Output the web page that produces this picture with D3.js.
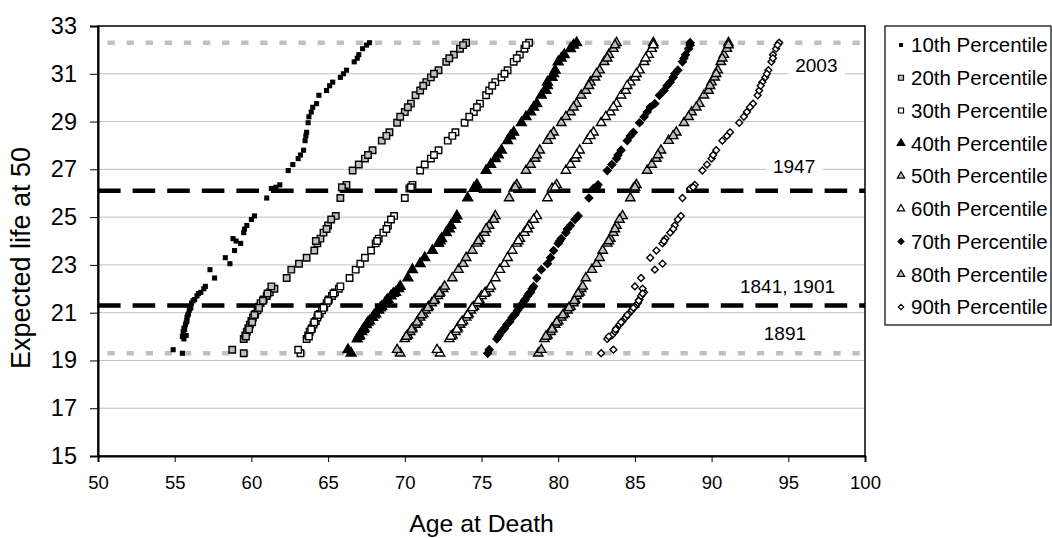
<!DOCTYPE html>
<meta charset="utf-8">
<style>
body { margin: 0; background: #fff; }
svg { display: block; }
text { font-family: "Liberation Sans", Arial, sans-serif; fill: #000; }
.grid line { stroke: #c0c0c0; stroke-width: 1; }
</style>
<svg width="1052" height="538"></svg>
<script src="https://cdn.jsdelivr.net/npm/d3@7"></script>
<script>

// expected life at 50, one value per year (shared by all percentiles)
var lifeAt50 = [19.30, 19.45, 19.90, 20.05, 20.20, 20.35, 20.50, 20.65, 20.80, 20.95,
  21.10, 21.25, 21.40, 21.55, 21.70, 21.85, 22.00, 22.45, 22.80, 23.05,
  23.60, 23.90, 24.10, 24.35, 24.65, 25.05, 25.80, 26.20, 26.35, 26.95,
  27.20, 27.45, 27.80, 28.20, 28.55, 28.95, 29.40, 29.75, 30.10, 30.30,
  30.65, 30.85, 31.15, 31.50, 31.80, 32.05, 32.30,
  20.00, 20.30, 20.60, 20.90, 21.20, 21.50, 21.80, 22.10, 23.30, 24.00,
  24.50, 24.90, 26.25, 27.60, 28.40, 29.20, 29.60, 30.50, 31.00, 31.65, 32.20];

// age at death for each percentile, same order as lifeAt50
var ageP10 = [55.5, 54.9, 55.6, 55.75, 55.55, 55.6, 55.7, 55.8, 55.8, 55.9,
  55.95, 56.0, 56.1, 56.3, 56.45, 56.7, 56.9, 57.6, 57.3, 58.6,
  58.9, 59.3, 58.8, 59.5, 59.7, 60.2, 61.0, 61.3, 61.85, 62.4,
  62.7, 63.05, 63.4, 63.5, 63.6, 63.7, 63.9, 64.25, 64.4, 64.9,
  65.3, 65.8, 66.2, 66.7, 67.0, 67.25, 67.7,
  55.5, 55.65, 55.75, 55.85, 56.05, 56.2, 56.55, 57.0, 58.3, 59.0,
  59.55, 60.0, 61.6, 63.2, 63.55, 63.75, 64.0, 65.1, 66.0, 66.9, 67.5];
var ageP20 = [59.5, 58.75, 59.5, 59.6, 59.7, 59.8, 59.9, 60.0, 60.1, 60.25,
  60.4, 60.5, 60.6, 60.8, 61.0, 61.2, 61.5, 62.3, 62.6, 63.1,
  64.1, 64.3, 64.5, 64.7, 65.0, 65.5, 65.8, 66.0, 66.2, 66.6,
  67.0, 67.4, 67.9, 68.5, 69.0, 69.5, 70.0, 70.4, 70.7, 71.0,
  71.4, 71.7, 72.2, 72.7, 73.2, 73.6, 74.0,
  59.65, 59.85, 60.05, 60.2, 60.5, 60.75, 61.05, 61.3, 63.6, 64.2,
  64.9, 65.2, 65.9, 67.6, 68.8, 69.7, 70.2, 71.2, 71.9, 72.9, 73.8];
var ageP30 = [63.2, 63.05, 63.6, 63.7, 63.8, 63.95, 64.05, 64.2, 64.3, 64.45,
  64.6, 64.75, 64.9, 65.05, 65.25, 65.45, 65.7, 66.4, 66.8, 67.1,
  67.8, 68.1, 68.3, 68.6, 68.9, 69.3, 70.0, 70.3, 70.5, 71.0,
  71.3, 71.7, 72.2, 72.8, 73.3, 73.9, 74.5, 74.9, 75.3, 75.5,
  75.9, 76.3, 76.7, 77.1, 77.5, 77.8, 78.1,
  63.75, 63.9, 64.1, 64.35, 64.7, 65.0, 65.35, 65.8, 67.4, 68.2,
  68.8, 69.1, 70.4, 71.9, 73.1, 74.2, 74.7, 75.7, 76.5, 77.3, 77.9];
var ageP40 = [66.5, 66.3, 66.9, 67.05, 67.2, 67.35, 67.5, 67.7, 67.9, 68.1,
  68.3, 68.5, 68.7, 68.9, 69.1, 69.4, 69.6, 70.2, 70.5, 71.0,
  71.8, 72.2, 72.4, 72.7, 73.0, 73.4, 74.1, 74.5, 74.7, 75.3,
  75.6, 75.9, 76.3, 76.7, 77.1, 77.6, 78.2, 78.6, 78.9, 79.2,
  79.3, 79.6, 79.8, 80.0, 80.4, 80.8, 81.2,
  67.0, 67.3, 67.6, 68.0, 68.4, 68.8, 69.25, 69.7, 71.3, 72.3,
  72.9, 73.3, 74.6, 76.1, 76.9, 77.9, 78.4, 79.3, 79.7, 80.2, 81.0];
var ageP50 = [69.7, 69.5, 70.0, 70.2, 70.35, 70.5, 70.7, 70.85, 71.0, 71.2,
  71.35, 71.55, 71.75, 71.95, 72.15, 72.3, 72.5, 73.1, 73.5, 73.8,
  74.4, 74.7, 74.9, 75.2, 75.5, 75.9, 76.8, 77.1, 77.3, 77.9,
  78.2, 78.5, 78.8, 79.3, 79.7, 80.2, 80.8, 81.2, 81.5, 81.8,
  82.1, 82.4, 82.7, 83.0, 83.3, 83.6, 83.8,
  70.1, 70.45, 70.8, 71.1, 71.5, 71.9, 72.25, 72.6, 74.0, 74.8,
  75.3, 75.8, 77.2, 78.6, 79.5, 80.5, 81.0, 82.0, 82.5, 83.2, 83.7];
var ageP60 = [72.3, 72.1, 72.9, 73.1, 73.3, 73.45, 73.6, 73.8, 74.0, 74.15,
  74.3, 74.5, 74.7, 74.85, 75.0, 75.3, 75.5, 75.9, 76.2, 76.5,
  77.0, 77.3, 77.5, 77.8, 78.1, 78.6, 79.3, 79.6, 79.9, 80.5,
  80.8, 81.1, 81.4, 81.9, 82.3, 82.8, 83.4, 83.8, 84.1, 84.4,
  84.7, 85.0, 85.3, 85.6, 85.9, 86.1, 86.2,
  73.0, 73.4, 73.7, 74.1, 74.4, 74.8, 75.2, 75.6, 76.7, 77.4,
  78.0, 78.4, 79.8, 81.2, 82.1, 83.1, 83.6, 84.5, 85.1, 85.7, 86.2];
var ageP70 = [75.4, 75.5, 76.0, 76.15, 76.3, 76.5, 76.65, 76.85, 77.0, 77.2,
  77.35, 77.5, 77.7, 77.85, 78.0, 78.2, 78.3, 78.6, 78.9, 79.3,
  79.7, 80.0, 80.2, 80.5, 80.8, 81.3, 82.0, 82.3, 82.6, 83.2,
  83.5, 83.8, 84.1, 84.5, 84.9, 85.3, 85.8, 86.3, 86.6, 86.9,
  87.3, 87.5, 87.8, 88.1, 88.3, 88.5, 88.6,
  76.1, 76.45, 76.8, 77.15, 77.45, 77.8, 78.1, 78.4, 79.5, 80.1,
  80.6, 81.1, 82.5, 83.9, 84.7, 85.6, 86.0, 87.1, 87.6, 88.2, 88.6];
var ageP80 = [78.7, 78.9, 79.1, 79.3, 79.5, 79.6, 79.8, 80.0, 80.2, 80.4,
  80.6, 80.8, 81.0, 81.1, 81.2, 81.4, 81.5, 81.8, 82.2, 82.5,
  82.9, 83.2, 83.4, 83.6, 83.8, 84.2, 84.7, 84.9, 85.1, 85.8,
  86.1, 86.4, 86.7, 87.2, 87.7, 88.2, 88.7, 89.2, 89.5, 89.8,
  90.0, 90.2, 90.4, 90.6, 90.8, 91.0, 91.1,
  79.2, 79.6, 79.9, 80.3, 80.7, 81.05, 81.3, 81.6, 82.7, 83.3,
  83.7, 84.0, 85.0, 86.5, 87.5, 88.5, 89.0, 89.9, 90.3, 90.7, 91.1];
var ageP90 = [82.8, 83.6, 83.2, 83.5, 83.7, 83.8, 84.0, 84.2, 84.4, 84.6,
  84.8, 85.0, 85.2, 85.3, 85.4, 85.6, 85.5, 85.4, 86.3, 86.8,
  86.4, 86.8, 87.0, 87.3, 87.6, 88.0, 88.1, 88.6, 88.9, 89.4,
  89.7, 90.0, 90.3, 90.7, 91.2, 91.8, 92.3, 92.7, 93.0, 93.1,
  93.3, 93.5, 93.7, 93.9, 94.0, 94.2, 94.4,
  83.3, 83.75, 84.1, 84.5, 84.9, 85.25, 85.5, 85.0, 86.0, 86.9,
  87.5, 87.8, 88.8, 90.1, 91.0, 92.1, 92.5, 93.2, 93.6, 94.0, 94.3];

var seriesNames = ["10th Percentile", "20th Percentile", "30th Percentile",
  "40th Percentile", "50th Percentile", "60th Percentile",
  "70th Percentile", "80th Percentile", "90th Percentile"];

// reference levels of expected life at 50 and their year labels
var refLevels = [32.3, 26.1, 21.3, 19.3];
var refLabels = ["2003", "1947", "1841, 1901", "1891"];

var xTicks = [50, 55, 60, 65, 70, 75, 80, 85, 90, 95, 100];
var yTicks = [15, 17, 19, 21, 23, 25, 27, 29, 31, 33];

var svg = d3.select("svg");

var x = d3.scaleLinear().domain([50, 100]).range([98, 865]);
var y = d3.scaleLinear().domain([15, 33]).range([456, 26]);

var ages = [ageP10, ageP20, ageP30, ageP40, ageP50, ageP60, ageP70, ageP80, ageP90];

// marker styles per percentile
var styles = [
  {type: d3.symbolSquare,   size: 26, fill: "#000",    stroke: "none"},
  {type: d3.symbolSquare,   size: 42, fill: "#c0c0c0", stroke: "#000"},
  {type: d3.symbolSquare,   size: 42, fill: "#fff",    stroke: "#000"},
  {type: d3.symbolTriangle, size: 42, fill: "#000",    stroke: "#000"},
  {type: d3.symbolTriangle, size: 38, fill: "#c0c0c0", stroke: "#000"},
  {type: d3.symbolTriangle, size: 38, fill: "#fff",    stroke: "#000"},
  {type: d3.symbolDiamond2, size: 38, fill: "#000",    stroke: "#000"},
  {type: d3.symbolTriangle, size: 38, fill: "#c0c0c0", stroke: "#000"},
  {type: d3.symbolDiamond2, size: 30, fill: "#fff",    stroke: "#000"}
];

// gridlines
svg.append("g").attr("class", "grid")
  .selectAll("line")
  .data(yTicks.slice(1, -1))
  .enter().append("line")
    .attr("x1", x(50)).attr("x2", x(100))
    .attr("y1", function(d) { return y(d); })
    .attr("y2", function(d) { return y(d); });

// reference lines
var refStyle = [
  {stroke: "#c0c0c0", dash: "7.3 11.8", offset: 9.6},
  {stroke: "#000", dash: "22.6 12", offset: 0},
  {stroke: "#000", dash: "22.6 12", offset: 0},
  {stroke: "#c0c0c0", dash: "7.3 11.8", offset: 9.6}
];
svg.append("g")
  .selectAll("line")
  .data(refLevels)
  .enter().append("line")
    .attr("x1", x(50)).attr("x2", x(100))
    .attr("y1", function(d) { return y(d); })
    .attr("y2", function(d) { return y(d); })
    .style("stroke", function(d, i) { return refStyle[i].stroke; })
    .style("stroke-width", 4.5)
    .style("stroke-dasharray", function(d, i) { return refStyle[i].dash; })
    .style("stroke-dashoffset", function(d, i) { return refStyle[i].offset; });

// points
ages.forEach(function(arr, i) {
  var st = styles[i];
  svg.append("g")
    .selectAll("path")
    .data(arr)
    .enter().append("path")
      .attr("transform", function(d, j) {
        return "translate(" + x(d) + "," + y(lifeAt50[j]) + ")";
      })
      .attr("d", d3.symbol().type(st.type).size(st.size))
      .style("fill", st.fill)
      .style("stroke", st.stroke)
      .style("stroke-width", 1.4);
});

// year labels (text boxes with white background)
var labelPos = [
  {x: 95.45, y: 31.07},
  {x: 94.0, y: 26.85},
  {x: 91.85, y: 21.82},
  {x: 93.4, y: 19.86}
];
var labels = svg.append("g")
  .selectAll("g")
  .data(refLabels)
  .enter().append("g")
    .attr("transform", function(d, i) {
      return "translate(" + x(labelPos[i].x) + "," + y(labelPos[i].y) + ")";
    });
labels.append("rect")
  .attr("x", -7).attr("y", -18)
  .attr("height", 26)
  .attr("width", function(d) { return d.length * 10.6 + 14; })
  .style("fill", "#fff");
labels.append("text")
  .style("font-size", "19px")
  .text(function(d) { return d; });

// frame
svg.append("rect")
  .attr("x", x(50)).attr("y", y(33))
  .attr("width", x(100) - x(50)).attr("height", y(15) - y(33))
  .style("fill", "none").style("stroke", "#000").style("stroke-width", 1.5);

// axes
var xAxis = svg.append("g")
  .attr("transform", "translate(0," + y(15) + ")")
  .call(d3.axisBottom(x).tickValues(xTicks).tickSize(6).tickPadding(14));
xAxis.select(".domain").style("stroke-width", 2);
xAxis.selectAll("text").style("font-size", "18.5px").style("font-family", "Liberation Sans, Arial, sans-serif");

var yAxis = svg.append("g")
  .attr("transform", "translate(" + x(50) + ",0)")
  .call(d3.axisLeft(y).tickValues(yTicks).tickSize(8).tickPadding(13));
yAxis.select(".domain").style("stroke-width", 2);
yAxis.selectAll("text").style("font-size", "23.5px").style("font-family", "Liberation Sans, Arial, sans-serif");

svg.append("text")
  .attr("x", (x(50) + x(100)) / 2)
  .attr("y", 532)
  .attr("text-anchor", "middle")
  .style("font-size", "24.8px")
  .text("Age at Death");

svg.append("text")
  .attr("transform", "translate(30,258) rotate(-90)")
  .attr("text-anchor", "middle")
  .style("font-size", "27px")
  .text("Expected life at 50");

// legend
var legend = svg.append("g").attr("transform", "translate(885,26)");
legend.append("rect")
  .attr("width", 166).attr("height", 299)
  .style("fill", "#fff").style("stroke", "#000").style("stroke-width", 1.2);

var item = legend.selectAll("g.item")
  .data(seriesNames)
  .enter().append("g")
    .attr("class", "item")
    .attr("transform", function(d, i) { return "translate(0," + (19 + i * 32.75) + ")"; });
item.append("path")
  .attr("transform", "translate(16,0)")
  .attr("d", function(d, i) { return d3.symbol().type(styles[i].type).size(styles[i].size * 0.6)(); })
  .style("fill", function(d, i) { return styles[i].fill; })
  .style("stroke", function(d, i) { return styles[i].stroke; })
  .style("stroke-width", 1.2);
item.append("text")
  .attr("x", 26)
  .attr("dy", "0.36em")
  .style("font-size", "20.5px")
  .text(function(d) { return d; });

</script>
